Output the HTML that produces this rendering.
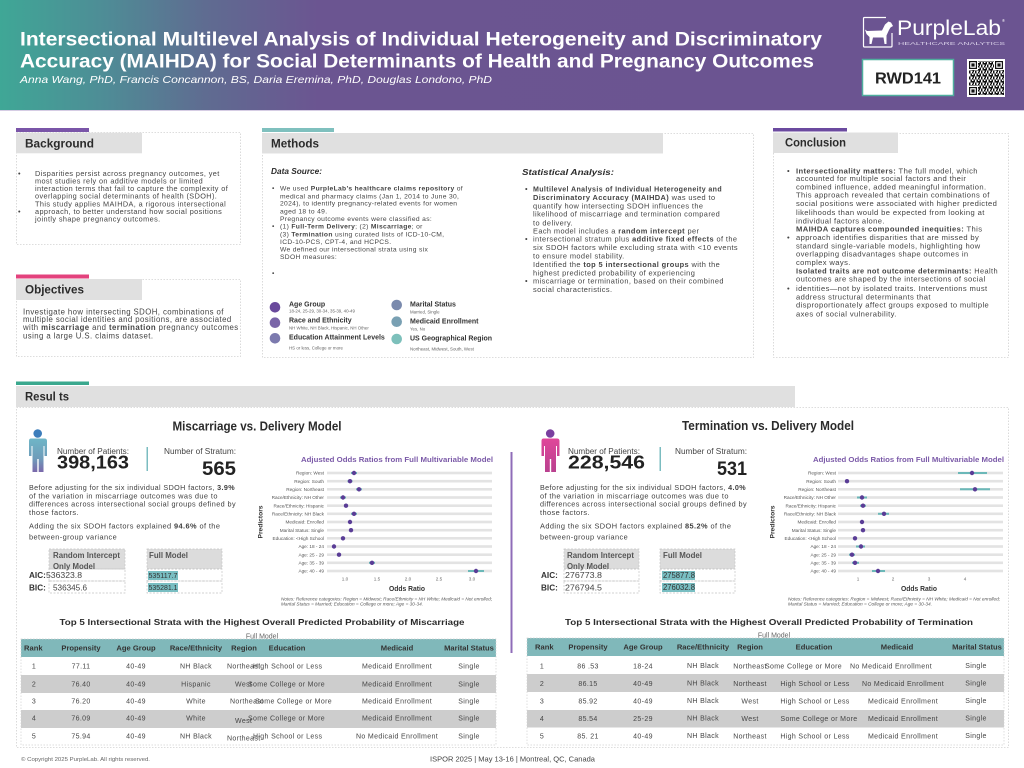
<!DOCTYPE html>
<html><head><meta charset="utf-8">
<style>
html,body{margin:0;padding:0;background:#fff;}
body{width:1024px;height:768px;overflow:hidden;}
svg{display:block;}
svg text{font-family:"Liberation Sans",sans-serif;}
.bg{font-size:7.3px;letter-spacing:0.4px;fill:#444}
.ob{font-size:7.8px;letter-spacing:0.42px;fill:#444}
.me{font-size:6.7px;letter-spacing:0.33px;fill:#444}
.st{font-size:7.4px;letter-spacing:0.4px;fill:#444}
.co{font-size:7.6px;letter-spacing:0.38px;fill:#444}
.rp{font-size:7.4px;letter-spacing:0.4px;fill:#3f3f3f}
.hd{font-size:12px;font-weight:bold;fill:#2b2b2b}
.lab{font-size:4.7px;fill:#555}
.tk{font-size:4.6px;fill:#666}
.th{font-size:7.6px;font-weight:bold;fill:#333}
.td{font-size:7px;letter-spacing:0.35px;fill:#454545}
.lg{font-size:7px;font-weight:bold;fill:#333}
.ls{font-size:4.4px;fill:#666}
</style></head>
<body>
<svg width="1024" height="768" viewBox="0 0 1024 768" xmlns="http://www.w3.org/2000/svg">
<defs>
<linearGradient id="hg" x1="0" x2="1" y1="0" y2="0">
<stop offset="0" stop-color="#3fa796"/>
<stop offset="0.1" stop-color="#4e8d96"/>
<stop offset="0.2" stop-color="#5f6c91"/>
<stop offset="0.31" stop-color="#6b5591"/>
<stop offset="1" stop-color="#6b5491"/>
</linearGradient>
<linearGradient id="ib" x1="0" x2="0" y1="0" y2="1">
<stop offset="0" stop-color="#6fb6c7"/>
<stop offset="0.6" stop-color="#6f9cba"/>
<stop offset="1" stop-color="#7a68ab"/>
</linearGradient>
<linearGradient id="ip" x1="0" x2="0" y1="0" y2="1">
<stop offset="0" stop-color="#e0469a"/>
<stop offset="1" stop-color="#b9418f"/>
</linearGradient>
<pattern id="qr" width="6" height="6" patternUnits="userSpaceOnUse">
<rect x="0" y="0" width="1.5" height="1.5" fill="#111"/>
<rect x="3" y="0" width="1.5" height="1.5" fill="#111"/>
<rect x="1.5" y="1.5" width="1.5" height="1.5" fill="#111"/>
<rect x="4.5" y="1.5" width="1.5" height="3" fill="#111"/>
<rect x="0" y="3" width="3" height="1.5" fill="#111"/>
<rect x="3" y="4.5" width="1.5" height="1.5" fill="#111"/>
<rect x="0.5" y="4.5" width="1.5" height="1.5" fill="#111"/>
</pattern>
</defs>

<!-- HEADER -->
<rect x="0" y="0" width="1024" height="110" fill="url(#hg)"/>
<rect x="0" y="110" width="1024" height="1" fill="#d6cde4"/>
<text x="20" y="45.5" font-size="19" font-weight="bold" fill="#fff" textLength="802" lengthAdjust="spacingAndGlyphs">Intersectional Multilevel Analysis of Individual Heterogeneity and Discriminatory</text>
<text x="20" y="67.5" font-size="19" font-weight="bold" fill="#fff" textLength="794" lengthAdjust="spacingAndGlyphs">Accuracy (MAIHDA) for Social Determinants of Health and Pregnancy Outcomes</text>
<text x="20" y="83" font-size="10.5" font-style="italic" fill="#fff" textLength="472" lengthAdjust="spacingAndGlyphs">Anna Wang, PhD, Francis Concannon, BS, Daria Eremina, PhD, Douglas Londono, PhD</text>

<!-- logo -->
<path d="M886,17.5 L864.5,17.5 Q863.5,17.5 863.5,18.5 L863.5,46 Q863.5,47 864.5,47 L891,47 Q892,47 892,46 L892,33" fill="none" stroke="#fff" stroke-width="1.2"/>
<path d="M867,31 L882,30.5 L885,24.5 L888.5,21.5 L891,22.5 L893,26 L890.5,27.5 L889,30 L886.5,35.5 L886.5,44 L884.5,44 L883.5,37.5 L873,37.5 L871.5,44 L869.5,44 L869.5,37 L866.5,34 L865,29.5 Z" fill="#fff"/>
<text x="897" y="35" font-size="21" fill="#fff" textLength="104" lengthAdjust="spacingAndGlyphs">PurpleLab</text>
<text x="1002" y="22" font-size="4" fill="#fff">®</text>
<text x="898" y="45" font-size="4.8" fill="#d9d0e8" textLength="107" lengthAdjust="spacingAndGlyphs">HEALTHCARE ANALYTICS</text>
<rect x="862.5" y="59.5" width="91" height="36" fill="#fff" stroke="#4fae9e" stroke-width="1.5"/>
<text x="908" y="83.3" font-size="16" font-weight="bold" fill="#222" text-anchor="middle" textLength="66" lengthAdjust="spacingAndGlyphs">RWD141</text>
<rect x="967" y="59" width="38" height="38" fill="#fff"/>
<rect x="978" y="61" width="16" height="34" fill="url(#qr)"/>
<rect x="969" y="70" width="35" height="16" fill="url(#qr)"/>
<rect x="978" y="86" width="26" height="9" fill="url(#qr)"/>
<g>
<rect x="969" y="61" width="8" height="8" fill="#111"/><rect x="970.2" y="62.2" width="5.6" height="5.6" fill="#fff"/><rect x="971.4" y="63.4" width="3.2" height="3.2" fill="#111"/>
<rect x="995" y="61" width="8" height="8" fill="#111"/><rect x="996.2" y="62.2" width="5.6" height="5.6" fill="#fff"/><rect x="997.4" y="63.4" width="3.2" height="3.2" fill="#111"/>
<rect x="969" y="87" width="8" height="8" fill="#111"/><rect x="970.2" y="88.2" width="5.6" height="5.6" fill="#fff"/><rect x="971.4" y="89.4" width="3.2" height="3.2" fill="#111"/>
</g>

<!-- SECTION BOXES -->
<g fill="none" stroke="#d2d2d2" stroke-width="0.8" stroke-dasharray="1.5 1.5">
<rect x="16.5" y="132.5" width="224" height="112"/>
<rect x="16.5" y="279.5" width="224" height="77"/>
<rect x="262.5" y="133.5" width="491" height="224"/>
<rect x="773.5" y="133.5" width="235" height="224"/>
<rect x="16.5" y="407.5" width="992" height="340"/>
</g>
<rect x="16" y="128" width="73" height="4" fill="#7a55a8"/>
<rect x="16" y="132.7" width="126" height="20.6" fill="#e0e0e0"/>
<text class="hd" x="25" y="147.3" textLength="69" lengthAdjust="spacingAndGlyphs">Background</text>
<rect x="16" y="274.5" width="73" height="4" fill="#e3427d"/>
<rect x="16" y="279" width="126" height="21" fill="#e0e0e0"/>
<text class="hd" x="25" y="293.3" textLength="59" lengthAdjust="spacingAndGlyphs">Objectives</text>
<rect x="262" y="128" width="72" height="4" fill="#7fc0be"/>
<rect x="262" y="133" width="401" height="20.5" fill="#e0e0e0"/>
<text class="hd" x="271" y="147.3" textLength="48" lengthAdjust="spacingAndGlyphs">Methods</text>
<rect x="773" y="128" width="74" height="3.5" fill="#6b4a9f"/>
<rect x="773" y="132.5" width="125" height="20.5" fill="#e0e0e0"/>
<text class="hd" x="785" y="146.5" textLength="61" lengthAdjust="spacingAndGlyphs">Conclusion</text>
<rect x="16" y="381.5" width="73" height="3.5" fill="#3aa88e"/>
<rect x="16" y="386" width="779" height="21" fill="#e0e0e0"/>
<text class="hd" x="25" y="400.3" textLength="44" lengthAdjust="spacingAndGlyphs">Resul ts</text>

<!-- BACKGROUND -->
<text class="bg" x="18" y="175.8">•</text>
<text class="bg" x="18" y="213.9">•</text>
<text class="bg" x="35" y="175.8">Disparities persist across pregnancy outcomes, yet</text>
<text class="bg" x="35" y="183.5">most studies rely on additive models or limited</text>
<text class="bg" x="35" y="191.1">interaction terms that fail to capture the complexity of</text>
<text class="bg" x="35" y="198.7">overlapping social determinants of health (SDOH).</text>
<text class="bg" x="35" y="206.3">This study applies MAIHDA, a rigorous intersectional</text>
<text class="bg" x="35" y="213.9">approach, to better understand how social positions</text>
<text class="bg" x="35" y="221.5">jointly shape pregnancy outcomes.</text>

<!-- OBJECTIVES -->
<text class="ob" x="23" y="314.5">Investigate how intersecting SDOH, combinations of</text>
<text class="ob" x="23" y="322.1">multiple social identities and positions, are associated</text>
<text class="ob" x="23" y="330.1">with <tspan font-weight="bold">miscarriage</tspan> and <tspan font-weight="bold">termination</tspan> pregnancy outcomes</text>
<text class="ob" x="23" y="338.5">using a large U.S. claims dataset.</text>

<!-- METHODS -->
<text x="271" y="174" font-size="8.5" font-weight="bold" font-style="italic" fill="#2b2b2b" textLength="51" lengthAdjust="spacingAndGlyphs">Data Source:</text>
<text class="me" x="272" y="190.6">•</text>
<text class="me" x="272" y="228.3">•</text>
<text class="me" x="272" y="275.6">•</text>
<text class="me" x="280" y="190.6">We used <tspan font-weight="bold">PurpleLab’s healthcare claims repository</tspan> of</text>
<text class="me" x="280" y="198.3">medical and pharmacy claims (Jan 1, 2014 to June 30,</text>
<text class="me" x="280" y="205.6">2024), to identify pregnancy-related events for women</text>
<text class="me" x="280" y="213.3">aged 18 to 49.</text>
<text class="me" x="280" y="221">Pregnancy outcome events were classified as:</text>
<text class="me" x="280" y="228.3">(1) <tspan font-weight="bold">Full-Term Delivery</tspan>; (2) <tspan font-weight="bold">Miscarriage</tspan>; or</text>
<text class="me" x="280" y="236.3">(3) <tspan font-weight="bold">Termination</tspan> using curated lists of ICD-10-CM,</text>
<text class="me" x="280" y="244">ICD-10-PCS, CPT-4, and HCPCS.</text>
<text class="me" x="280" y="251.6">We defined our intersectional strata using six</text>
<text class="me" x="280" y="259">SDOH measures:</text>

<circle cx="275" cy="307.3" r="5.3" fill="#6a4a9c"/>
<circle cx="275" cy="322.7" r="5.3" fill="#7a65a8"/>
<circle cx="275" cy="338.3" r="5.3" fill="#7c7aae"/>
<circle cx="396.7" cy="305" r="5.3" fill="#7a8aad"/>
<circle cx="396.7" cy="321.7" r="5.3" fill="#79a0b3"/>
<circle cx="396.7" cy="339" r="5.3" fill="#7dc0bb"/>
<text class="lg" x="289" y="306.5">Age Group</text>
<text class="ls" x="289" y="312.5">18-24, 25-29, 30-34, 35-39, 40-49</text>
<text class="lg" x="289" y="322.5">Race and Ethnicity</text>
<text class="ls" x="289" y="329.5">NH White, NH Black, Hispanic, NH Other</text>
<text class="lg" x="289" y="339.5">Education Attainment Levels</text>
<text class="ls" x="289" y="349.5">HS or less, College or more</text>
<text class="lg" x="410" y="306.5">Marital Status</text>
<text class="ls" x="410" y="313.5">Married, Single</text>
<text class="lg" x="410" y="323.5">Medicaid Enrollment</text>
<text class="ls" x="410" y="330.5">Yes, No</text>
<text class="lg" x="410" y="340.5">US Geographical Region</text>
<text class="ls" x="410" y="350.5">Northeast, Midwest, South, West</text>

<!-- STATISTICAL -->
<text x="522" y="175" font-size="8.5" font-weight="bold" font-style="italic" fill="#2b2b2b" textLength="92" lengthAdjust="spacingAndGlyphs">Statistical Analysis:</text>
<text class="st" x="525" y="191.6">•</text>
<text class="st" x="525" y="241.6">•</text>
<text class="st" x="525" y="283.6">•</text>
<text class="st" x="533" y="191.6" font-weight="bold" textLength="189" lengthAdjust="spacingAndGlyphs">Multilevel Analysis of Individual Heterogeneity and</text>
<text class="st" x="533" y="199.9"><tspan font-weight="bold">Discriminatory Accuracy (MAIHDA)</tspan> was used to</text>
<text class="st" x="533" y="208.3">quantify how intersecting SDOH influences the</text>
<text class="st" x="533" y="216.6">likelihood of miscarriage and termination compared</text>
<text class="st" x="533" y="225.3">to delivery.</text>
<text class="st" x="533" y="233.3">Each model includes a <tspan font-weight="bold">random intercept</tspan> per</text>
<text class="st" x="533" y="241.6">intersectional stratum plus <tspan font-weight="bold">additive fixed effects</tspan> of the</text>
<text class="st" x="533" y="249.9">six SDOH factors while excluding strata with &lt;10 events</text>
<text class="st" x="533" y="258.3">to ensure model stability.</text>
<text class="st" x="533" y="266.9">Identified the <tspan font-weight="bold">top 5 intersectional groups</tspan> with the</text>
<text class="st" x="533" y="275.3">highest predicted probability of experiencing</text>
<text class="st" x="533" y="283.6">miscarriage or termination, based on their combined</text>
<text class="st" x="533" y="291.9">social characteristics.</text>

<!-- CONCLUSION -->
<text class="co" x="787" y="173.4">•</text>
<text class="co" x="787" y="240">•</text>
<text class="co" x="787" y="291">•</text>
<text class="co" x="796" y="173.4"><tspan font-weight="bold">Intersectionality matters:</tspan> The full model, which</text>
<text class="co" x="796" y="181">accounted for multiple social factors and their</text>
<text class="co" x="796" y="189.4">combined influence, added meaningful information.</text>
<text class="co" x="796" y="197.7">This approach revealed that certain combinations of</text>
<text class="co" x="796" y="206">social positions were associated with higher predicted</text>
<text class="co" x="796" y="215">likelihoods than would be expected from looking at</text>
<text class="co" x="796" y="223.4">individual factors alone.</text>
<text class="co" x="796" y="231.7"><tspan font-weight="bold">MAIHDA captures compounded inequities:</tspan> This</text>
<text class="co" x="796" y="240">approach identifies disparities that are missed by</text>
<text class="co" x="796" y="248.4">standard single-variable models, highlighting how</text>
<text class="co" x="796" y="256.7">overlapping disadvantages shape outcomes in</text>
<text class="co" x="796" y="265">complex ways.</text>
<text class="co" x="796" y="273.4" textLength="202" lengthAdjust="spacingAndGlyphs"><tspan font-weight="bold">Isolated traits are not outcome determinants:</tspan> Health</text>
<text class="co" x="796" y="281.7">outcomes are shaped by the intersections of social</text>
<text class="co" x="796" y="291">identities—not by isolated traits. Interventions must</text>
<text class="co" x="796" y="299.4">address structural determinants that</text>
<text class="co" x="796" y="307.7">disproportionately affect groups exposed to multiple</text>
<text class="co" x="796" y="316.7">axes of social vulnerability.</text>

<!-- RESULTS LEFT -->
<text x="257" y="430.5" font-size="12.5" font-weight="bold" fill="#2b2b2b" text-anchor="middle" textLength="169" lengthAdjust="spacingAndGlyphs">Miscarriage vs. Delivery Model</text>
<circle cx="37.7" cy="433.5" r="4.3" fill="#3c7dbb"/>
<path d="M31,438.5 L44.5,438.5 Q47,438.5 47,441 L47,456 L44.5,456 L44.5,446 L43.5,446 L43.5,472 L38.7,472 L38.7,459 L37.3,459 L37.3,472 L32.5,472 L32.5,446 L31.5,446 L31.5,456 L29,456 L29,441 Q29,438.5 31,438.5 Z" fill="url(#ib)"/>
<text x="57" y="454" font-size="8" fill="#444" textLength="72" lengthAdjust="spacingAndGlyphs">Number of Patients:</text>
<text x="57" y="468.4" font-size="18" font-weight="bold" fill="#222" textLength="72" lengthAdjust="spacingAndGlyphs">398,163</text>
<rect x="146.5" y="447" width="1.5" height="24" fill="#7bbcc0"/>
<text x="164" y="454" font-size="8" fill="#444" textLength="72" lengthAdjust="spacingAndGlyphs">Number of Stratum:</text>
<text x="236" y="475" font-size="19" font-weight="bold" fill="#222" text-anchor="end" textLength="34" lengthAdjust="spacingAndGlyphs">565</text>
<text class="rp" x="29" y="489.9" textLength="206" lengthAdjust="spacingAndGlyphs">Before adjusting for the six individual SDOH factors, <tspan font-weight="bold">3.9%</tspan></text>
<text class="rp" x="29" y="498.3">of the variation in miscarriage outcomes was due to</text>
<text class="rp" x="29" y="506.6" textLength="207" lengthAdjust="spacingAndGlyphs">differences across intersectional social groups defined by</text>
<text class="rp" x="29" y="514.9">those factors.</text>
<text class="rp" x="29" y="528.3">Adding the six SDOH factors explained <tspan font-weight="bold">94.6%</tspan> of the</text>
<text class="rp" x="29" y="539.3">between-group variance</text>

<g stroke="#c4c4c4" stroke-width="0.7" stroke-dasharray="2 1.5">
<rect x="49" y="549" width="76" height="20" fill="#dcdcdc"/>
<rect x="147" y="549" width="75" height="20" fill="#dcdcdc"/>
<rect x="49" y="569" width="76" height="12" fill="none"/>
<rect x="49" y="581" width="76" height="12" fill="none"/>
<rect x="147" y="569" width="75" height="12" fill="none"/>
<rect x="147" y="581" width="75" height="12" fill="none"/>
</g>
<rect x="148" y="571" width="30" height="9" fill="#79bec2"/>
<rect x="148" y="583" width="30" height="9" fill="#79bec2"/>
<text x="53" y="558" font-size="7.8" font-weight="bold" fill="#555" textLength="67" lengthAdjust="spacingAndGlyphs">Random Intercept</text>
<text x="53" y="569" font-size="7.8" font-weight="bold" fill="#555" textLength="42" lengthAdjust="spacingAndGlyphs">Only Model</text>
<text x="149" y="558" font-size="7.8" font-weight="bold" fill="#555" textLength="39" lengthAdjust="spacingAndGlyphs">Full Model</text>
<text x="29" y="578" font-size="8.2" font-weight="bold" fill="#333">AIC:</text>
<text x="46" y="578" font-size="8.4" fill="#444" textLength="36" lengthAdjust="spacingAndGlyphs">536323.8</text>
<text x="29" y="590.3" font-size="8.2" font-weight="bold" fill="#333">BIC:</text>
<text x="53" y="590.3" font-size="8.4" fill="#444" textLength="34" lengthAdjust="spacingAndGlyphs">536345.6</text>
<text x="148.5" y="578.2" font-size="7.5" fill="#333" textLength="29" lengthAdjust="spacingAndGlyphs">535117.7</text>
<text x="148.5" y="590.2" font-size="7.5" fill="#333" textLength="29" lengthAdjust="spacingAndGlyphs">535281.1</text>

<!-- LEFT CHART -->
<text x="397" y="461.8" font-size="7.5" font-weight="bold" fill="#7b5aa8" text-anchor="middle" textLength="192" lengthAdjust="spacingAndGlyphs">Adjusted Odds Ratios from Full Multivariable Model</text>
<g fill="#e3e3e3">
<rect x="327" y="471.7" width="165" height="2.6"/>
<rect x="327" y="479.9" width="165" height="2.6"/>
<rect x="327" y="488.0" width="165" height="2.6"/>
<rect x="327" y="496.2" width="165" height="2.6"/>
<rect x="327" y="504.4" width="165" height="2.6"/>
<rect x="327" y="512.5" width="165" height="2.6"/>
<rect x="327" y="520.7" width="165" height="2.6"/>
<rect x="327" y="528.9" width="165" height="2.6"/>
<rect x="327" y="537.0" width="165" height="2.6"/>
<rect x="327" y="545.2" width="165" height="2.6"/>
<rect x="327" y="553.4" width="165" height="2.6"/>
<rect x="327" y="561.5" width="165" height="2.6"/>
<rect x="327" y="569.7" width="165" height="2.6"/>
</g>
<g text-anchor="end">
<text class="lab" x="324" y="474.6">Region: West</text>
<text class="lab" x="324" y="482.8">Region: South</text>
<text class="lab" x="324" y="490.9">Region: Northeast</text>
<text class="lab" x="324" y="499.1">Race/Ethnicity: NH Other</text>
<text class="lab" x="324" y="507.3">Race/Ethnicity: Hispanic</text>
<text class="lab" x="324" y="515.4">Race/Ethnicity: NH Black</text>
<text class="lab" x="324" y="523.6">Medicaid: Enrolled</text>
<text class="lab" x="324" y="531.8">Marital Status: Single</text>
<text class="lab" x="324" y="539.9">Education: &lt;High School</text>
<text class="lab" x="324" y="548.1">Age: 18 - 24</text>
<text class="lab" x="324" y="556.3">Age: 25 - 29</text>
<text class="lab" x="324" y="564.4">Age: 35 - 39</text>
<text class="lab" x="324" y="572.6">Age: 40 - 49</text>
</g>
<g stroke="#6bb8b8" stroke-width="2">
<line x1="351" x2="357" y1="473" y2="473"/>
<line x1="347.5" x2="352.5" y1="481.2" y2="481.2"/>
<line x1="356" x2="362" y1="489.3" y2="489.3"/>
<line x1="340" x2="346" y1="497.5" y2="497.5"/>
<line x1="344" x2="348" y1="505.7" y2="505.7"/>
<line x1="351" x2="357" y1="513.8" y2="513.8"/>
<line x1="348" x2="352" y1="522" y2="522"/>
<line x1="349" x2="353" y1="530.2" y2="530.2"/>
<line x1="341" x2="345" y1="538.3" y2="538.3"/>
<line x1="332" x2="336" y1="546.5" y2="546.5"/>
<line x1="337" x2="341" y1="554.7" y2="554.7"/>
<line x1="369" x2="375" y1="562.8" y2="562.8"/>
<line x1="468" x2="484" y1="571" y2="571"/>
</g>
<g fill="#5a3d96">
<circle cx="354" cy="473" r="2.2"/>
<circle cx="350" cy="481.2" r="2.2"/>
<circle cx="359" cy="489.3" r="2.2"/>
<circle cx="343" cy="497.5" r="2.2"/>
<circle cx="346" cy="505.7" r="2.2"/>
<circle cx="354" cy="513.8" r="2.2"/>
<circle cx="350" cy="522" r="2.2"/>
<circle cx="351" cy="530.2" r="2.2"/>
<circle cx="343" cy="538.3" r="2.2"/>
<circle cx="334" cy="546.5" r="2.2"/>
<circle cx="339" cy="554.7" r="2.2"/>
<circle cx="372" cy="562.8" r="2.2"/>
<circle cx="476" cy="571" r="2.2"/>
</g>
<g text-anchor="middle">
<text class="tk" x="345" y="580.5">1.0</text>
<text class="tk" x="377" y="580.5">1.5</text>
<text class="tk" x="408" y="580.5">2.0</text>
<text class="tk" x="439" y="580.5">2.5</text>
<text class="tk" x="472" y="580.5">3.0</text>
</g>
<text x="407" y="591" font-size="7.3" font-weight="bold" fill="#333" text-anchor="middle" textLength="36" lengthAdjust="spacingAndGlyphs">Odds Ratio</text>
<text transform="translate(262.3,522) rotate(-90)" font-size="6.5" font-weight="bold" fill="#333" text-anchor="middle" textLength="33" lengthAdjust="spacingAndGlyphs">Predictors</text>
<text x="281" y="600.5" font-size="4.3" font-style="italic" fill="#555" textLength="211" lengthAdjust="spacingAndGlyphs">Notes: Reference categories: Region = Midwest; Race/Ethnicity = NH White; Medicaid = Not enrolled;</text>
<text x="281" y="605.5" font-size="4.3" font-style="italic" fill="#555" textLength="142" lengthAdjust="spacingAndGlyphs">Marital Status = Married; Education = College or more; Age = 30-34.</text>

<!-- divider -->
<rect x="510.5" y="452" width="2" height="201" fill="#8f6cb8"/>

<!-- RESULTS RIGHT -->
<text x="768" y="430" font-size="12.5" font-weight="bold" fill="#2b2b2b" text-anchor="middle" textLength="172" lengthAdjust="spacingAndGlyphs">Termination vs. Delivery Model</text>
<g transform="translate(512.5,0)">
<circle cx="37.7" cy="433.5" r="4.3" fill="#7a3f9f"/>
<path d="M31,438.5 L44.5,438.5 Q47,438.5 47,441 L47,456 L44.5,456 L44.5,446 L43.5,446 L43.5,472 L38.7,472 L38.7,459 L37.3,459 L37.3,472 L32.5,472 L32.5,446 L31.5,446 L31.5,456 L29,456 L29,441 Q29,438.5 31,438.5 Z" fill="url(#ip)"/>
</g>
<text x="568" y="454" font-size="8" fill="#444" textLength="72" lengthAdjust="spacingAndGlyphs">Number of Patients:</text>
<text x="568" y="468.4" font-size="18" font-weight="bold" fill="#222" textLength="77" lengthAdjust="spacingAndGlyphs">228,546</text>
<rect x="659.5" y="447" width="1.5" height="24" fill="#7bbcc0"/>
<text x="675" y="454" font-size="8" fill="#444" textLength="72" lengthAdjust="spacingAndGlyphs">Number of Stratum:</text>
<text x="747" y="475" font-size="19" font-weight="bold" fill="#222" text-anchor="end" textLength="30" lengthAdjust="spacingAndGlyphs">531</text>
<text class="rp" x="540" y="489.9" textLength="206" lengthAdjust="spacingAndGlyphs">Before adjusting for the six individual SDOH factors, <tspan font-weight="bold">4.0%</tspan></text>
<text class="rp" x="540" y="498.3">of the variation in miscarriage outcomes was due to</text>
<text class="rp" x="540" y="506.6" textLength="207" lengthAdjust="spacingAndGlyphs">differences across intersectional social groups defined by</text>
<text class="rp" x="540" y="514.9">those factors.</text>
<text class="rp" x="540" y="528.3">Adding the six SDOH factors explained <tspan font-weight="bold">85.2%</tspan> of the</text>
<text class="rp" x="540" y="539.3">between-group variance</text>

<g stroke="#c4c4c4" stroke-width="0.7" stroke-dasharray="2 1.5">
<rect x="564" y="549" width="75" height="20" fill="#dcdcdc"/>
<rect x="660" y="549" width="75" height="20" fill="#dcdcdc"/>
<rect x="564" y="569" width="75" height="12" fill="none"/>
<rect x="564" y="581" width="75" height="12" fill="none"/>
<rect x="660" y="569" width="75" height="12" fill="none"/>
<rect x="660" y="581" width="75" height="12" fill="none"/>
</g>
<rect x="662" y="571" width="33" height="9" fill="#79bec2"/>
<rect x="662" y="583" width="33" height="9" fill="#79bec2"/>
<text x="567" y="558" font-size="7.8" font-weight="bold" fill="#555" textLength="67" lengthAdjust="spacingAndGlyphs">Random Intercept</text>
<text x="567" y="569" font-size="7.8" font-weight="bold" fill="#555" textLength="42" lengthAdjust="spacingAndGlyphs">Only Model</text>
<text x="663" y="558" font-size="7.8" font-weight="bold" fill="#555" textLength="39" lengthAdjust="spacingAndGlyphs">Full Model</text>
<text x="541" y="578" font-size="8.2" font-weight="bold" fill="#333">AIC:</text>
<text x="565" y="578" font-size="8.4" fill="#444" textLength="37" lengthAdjust="spacingAndGlyphs">276773.8</text>
<text x="541" y="590.3" font-size="8.2" font-weight="bold" fill="#333">BIC:</text>
<text x="565" y="590.3" font-size="8.4" fill="#444" textLength="37" lengthAdjust="spacingAndGlyphs">276794.5</text>
<text x="663" y="578.2" font-size="7.8" fill="#333" textLength="32" lengthAdjust="spacingAndGlyphs">275877.8</text>
<text x="663" y="590.2" font-size="7.8" fill="#333" textLength="32" lengthAdjust="spacingAndGlyphs">276032.8</text>

<!-- RIGHT CHART -->
<text x="908.5" y="461.8" font-size="7.5" font-weight="bold" fill="#7b5aa8" text-anchor="middle" textLength="191" lengthAdjust="spacingAndGlyphs">Adjusted Odds Ratios from Full Multivariable Model</text>
<g fill="#e3e3e3">
<rect x="838" y="471.7" width="165" height="2.6"/>
<rect x="838" y="479.9" width="165" height="2.6"/>
<rect x="838" y="488.0" width="165" height="2.6"/>
<rect x="838" y="496.2" width="165" height="2.6"/>
<rect x="838" y="504.4" width="165" height="2.6"/>
<rect x="838" y="512.5" width="165" height="2.6"/>
<rect x="838" y="520.7" width="165" height="2.6"/>
<rect x="838" y="528.9" width="165" height="2.6"/>
<rect x="838" y="537.0" width="165" height="2.6"/>
<rect x="838" y="545.2" width="165" height="2.6"/>
<rect x="838" y="553.4" width="165" height="2.6"/>
<rect x="838" y="561.5" width="165" height="2.6"/>
<rect x="838" y="569.7" width="165" height="2.6"/>
</g>
<g text-anchor="end">
<text class="lab" x="836" y="474.6">Region: West</text>
<text class="lab" x="836" y="482.8">Region: South</text>
<text class="lab" x="836" y="490.9">Region: Northeast</text>
<text class="lab" x="836" y="499.1">Race/Ethnicity: NH Other</text>
<text class="lab" x="836" y="507.3">Race/Ethnicity: Hispanic</text>
<text class="lab" x="836" y="515.4">Race/Ethnicity: NH Black</text>
<text class="lab" x="836" y="523.6">Medicaid: Enrolled</text>
<text class="lab" x="836" y="531.8">Marital Status: Single</text>
<text class="lab" x="836" y="539.9">Education: &lt;High School</text>
<text class="lab" x="836" y="548.1">Age: 18 - 24</text>
<text class="lab" x="836" y="556.3">Age: 25 - 29</text>
<text class="lab" x="836" y="564.4">Age: 35 - 39</text>
<text class="lab" x="836" y="572.6">Age: 40 - 49</text>
</g>
<g stroke="#6bb8b8" stroke-width="2">
<line x1="958" x2="987" y1="473" y2="473"/>
<line x1="845" x2="849" y1="481.2" y2="481.2"/>
<line x1="960" x2="990" y1="489.3" y2="489.3"/>
<line x1="857" x2="867" y1="497.5" y2="497.5"/>
<line x1="860" x2="866" y1="505.7" y2="505.7"/>
<line x1="878" x2="889" y1="513.8" y2="513.8"/>
<line x1="860" x2="864" y1="522" y2="522"/>
<line x1="861" x2="865" y1="530.2" y2="530.2"/>
<line x1="853" x2="857" y1="538.3" y2="538.3"/>
<line x1="856" x2="865" y1="546.5" y2="546.5"/>
<line x1="849" x2="855" y1="554.7" y2="554.7"/>
<line x1="852" x2="859" y1="562.8" y2="562.8"/>
<line x1="872" x2="885" y1="571" y2="571"/>
</g>
<g fill="#5a3d96">
<circle cx="972" cy="473" r="2.2"/>
<circle cx="847" cy="481.2" r="2.2"/>
<circle cx="975" cy="489.3" r="2.2"/>
<circle cx="862" cy="497.5" r="2.2"/>
<circle cx="863" cy="505.7" r="2.2"/>
<circle cx="884" cy="513.8" r="2.2"/>
<circle cx="862" cy="522" r="2.2"/>
<circle cx="863" cy="530.2" r="2.2"/>
<circle cx="855" cy="538.3" r="2.2"/>
<circle cx="861" cy="546.5" r="2.2"/>
<circle cx="852" cy="554.7" r="2.2"/>
<circle cx="855" cy="562.8" r="2.2"/>
<circle cx="878" cy="571" r="2.2"/>
</g>
<g text-anchor="middle">
<text class="tk" x="858" y="580.5">1</text>
<text class="tk" x="893" y="580.5">2</text>
<text class="tk" x="929" y="580.5">3</text>
<text class="tk" x="965" y="580.5">4</text>
</g>
<text x="919" y="591" font-size="7.3" font-weight="bold" fill="#333" text-anchor="middle" textLength="36" lengthAdjust="spacingAndGlyphs">Odds Ratio</text>
<text transform="translate(774.3,522) rotate(-90)" font-size="6.5" font-weight="bold" fill="#333" text-anchor="middle" textLength="33" lengthAdjust="spacingAndGlyphs">Predictors</text>
<text x="788" y="600.5" font-size="4.3" font-style="italic" fill="#555" textLength="212" lengthAdjust="spacingAndGlyphs">Notes: Reference categories: Region = Midwest; Race/Ethnicity = NH White; Medicaid = Not enrolled;</text>
<text x="788" y="605.5" font-size="4.3" font-style="italic" fill="#555" textLength="144" lengthAdjust="spacingAndGlyphs">Marital Status = Married; Education = College or more; Age = 30-34.</text>

<!-- LEFT TABLE -->
<text x="262" y="625" font-size="8.5" font-weight="bold" fill="#2b2b2b" text-anchor="middle" textLength="405" lengthAdjust="spacingAndGlyphs">Top 5 Intersectional Strata with the Highest Overall Predicted Probability of Miscarriage</text>
<text x="262" y="638.5" font-size="7" fill="#666" text-anchor="middle">Full Model</text>
<rect x="21" y="639" width="475" height="18" fill="#80b8ba"/>
<rect x="21" y="675" width="475" height="18" fill="#cdcdcd"/>
<rect x="21" y="710" width="475" height="18" fill="#cdcdcd"/>
<rect x="21" y="639" width="475" height="106" fill="none" stroke="#d2d2d2" stroke-width="0.7" stroke-dasharray="1.5 1.5"/>
<text class="th" x="24" y="650.7">Rank</text>
<g text-anchor="middle">
<text class="th" x="81" y="650.7">Propensity</text>
<text class="th" x="136" y="650.7">Age Group</text>
<text class="th" x="196" y="650.7">Race/Ethnicity</text>
<text class="th" x="244" y="650.7">Region</text>
<text class="th" x="287" y="650.7">Education</text>
<text class="th" x="397" y="650.7">Medicaid</text>
<text class="th" x="469" y="650.7">Marital Status</text>

<text class="td" x="34" y="668.7">1</text>
<text class="td" x="81" y="668.7">77.11</text>
<text class="td" x="136" y="668.7">40-49</text>
<text class="td" x="196" y="668.7">NH Black</text>
<text class="td" x="397" y="668.7">Medicaid Enrollment</text>
<text class="td" x="469" y="668.7">Single</text>

<text class="td" x="34" y="686.7">2</text>
<text class="td" x="81" y="686.7">76.40</text>
<text class="td" x="136" y="686.7">40-49</text>
<text class="td" x="196" y="686.7">Hispanic</text>
<text class="td" x="397" y="686.7">Medicaid Enrollment</text>
<text class="td" x="469" y="686.7">Single</text>

<text class="td" x="34" y="703.7">3</text>
<text class="td" x="81" y="703.7">76.20</text>
<text class="td" x="136" y="703.7">40-49</text>
<text class="td" x="196" y="703.7">White</text>
<text class="td" x="397" y="703.7">Medicaid Enrollment</text>
<text class="td" x="469" y="703.7">Single</text>

<text class="td" x="34" y="720.7">4</text>
<text class="td" x="81" y="720.7">76.09</text>
<text class="td" x="136" y="720.7">40-49</text>
<text class="td" x="196" y="720.7">White</text>
<text class="td" x="397" y="720.7">Medicaid Enrollment</text>
<text class="td" x="469" y="720.7">Single</text>

<text class="td" x="34" y="738.7">5</text>
<text class="td" x="81" y="738.7">75.94</text>
<text class="td" x="136" y="738.7">40-49</text>
<text class="td" x="196" y="738.7">NH Black</text>
<text class="td" x="397" y="738.7">No Medicaid Enrollment</text>
<text class="td" x="469" y="738.7">Single</text>
</g>
<text class="td" x="227" y="668.7">Northeast</text>
<text class="td" x="253" y="668.7">High School or Less</text>
<text class="td" x="235" y="686.7">West</text>
<text class="td" x="248" y="686.7">Some College or More</text>
<text class="td" x="230" y="703.7">Northeast</text>
<text class="td" x="255" y="703.7">Some College or More</text>
<text class="td" x="235" y="723">West</text>
<text class="td" x="248" y="720.7">Some College or More</text>
<text class="td" x="227" y="740.5">Northeast</text>
<text class="td" x="253" y="738.7">High School or Less</text>

<!-- RIGHT TABLE -->
<text x="769" y="625" font-size="8.5" font-weight="bold" fill="#2b2b2b" text-anchor="middle" textLength="408" lengthAdjust="spacingAndGlyphs">Top 5 Intersectional Strata with the Highest Overall Predicted Probability of Termination</text>
<text x="774" y="637.5" font-size="7" fill="#666" text-anchor="middle">Full Model</text>
<rect x="527" y="638" width="477" height="18" fill="#80b8ba"/>
<rect x="527" y="674" width="477" height="18" fill="#cdcdcd"/>
<rect x="527" y="710" width="477" height="17.5" fill="#cdcdcd"/>
<rect x="527" y="638" width="477" height="107" fill="none" stroke="#d2d2d2" stroke-width="0.7" stroke-dasharray="1.5 1.5"/>
<text class="th" x="535" y="649.7">Rank</text>
<g text-anchor="middle">
<text class="th" x="588" y="649.7">Propensity</text>
<text class="th" x="643" y="649.7">Age Group</text>
<text class="th" x="703" y="649.7">Race/Ethnicity</text>
<text class="th" x="750" y="649.7">Region</text>
<text class="th" x="814" y="649.7">Education</text>
<text class="th" x="897" y="649.7">Medicaid</text>
<text class="th" x="977" y="649.7">Marital Status</text>

<text class="td" x="542" y="668.7">1</text>
<text class="td" x="588" y="668.7">86 .53</text>
<text class="td" x="643" y="668.7">18-24</text>
<text class="td" x="703" y="668">NH Black</text>
<text class="td" x="750" y="668.7">Northeast</text>
<text class="td" x="803.5" y="668.7">Some College or More</text>
<text class="td" x="891" y="668.7">No Medicaid Enrollment</text>
<text class="td" x="976" y="668">Single</text>

<text class="td" x="542" y="686.2">2</text>
<text class="td" x="588" y="686.2">86.15</text>
<text class="td" x="643" y="686.2">40-49</text>
<text class="td" x="703" y="685.5">NH Black</text>
<text class="td" x="750" y="686.2">Northeast</text>
<text class="td" x="815" y="686.2">High School or Less</text>
<text class="td" x="903" y="686.2">No Medicaid Enrollment</text>
<text class="td" x="976" y="685.5">Single</text>

<text class="td" x="542" y="703.7">3</text>
<text class="td" x="588" y="703.7">85.92</text>
<text class="td" x="643" y="703.7">40-49</text>
<text class="td" x="703" y="703">NH Black</text>
<text class="td" x="750" y="703.7">West</text>
<text class="td" x="815" y="703.7">High School or Less</text>
<text class="td" x="903" y="703.7">Medicaid Enrollment</text>
<text class="td" x="976" y="703">Single</text>

<text class="td" x="542" y="721.2">4</text>
<text class="td" x="588" y="721.2">85.54</text>
<text class="td" x="643" y="721.2">25-29</text>
<text class="td" x="703" y="720.5">NH Black</text>
<text class="td" x="750" y="721.2">West</text>
<text class="td" x="819" y="721.2">Some College or More</text>
<text class="td" x="903" y="721.2">Medicaid Enrollment</text>
<text class="td" x="976" y="720.5">Single</text>

<text class="td" x="542" y="738.7">5</text>
<text class="td" x="588" y="738.7">85. 21</text>
<text class="td" x="643" y="738.7">40-49</text>
<text class="td" x="703" y="738">NH Black</text>
<text class="td" x="750" y="738.7">Northeast</text>
<text class="td" x="815" y="738.7">High School or Less</text>
<text class="td" x="903" y="738.7">Medicaid Enrollment</text>
<text class="td" x="976" y="738">Single</text>
</g>

<!-- FOOTER -->
<text x="21" y="761" font-size="5.4" fill="#666" textLength="129" lengthAdjust="spacingAndGlyphs">© Copyright 2025 PurpleLab. All rights reserved.</text>
<text x="430" y="761.5" font-size="7.3" fill="#444" textLength="165" lengthAdjust="spacingAndGlyphs">ISPOR 2025 | May 13-16 | Montreal, QC, Canada</text>
</svg>
</body></html>
